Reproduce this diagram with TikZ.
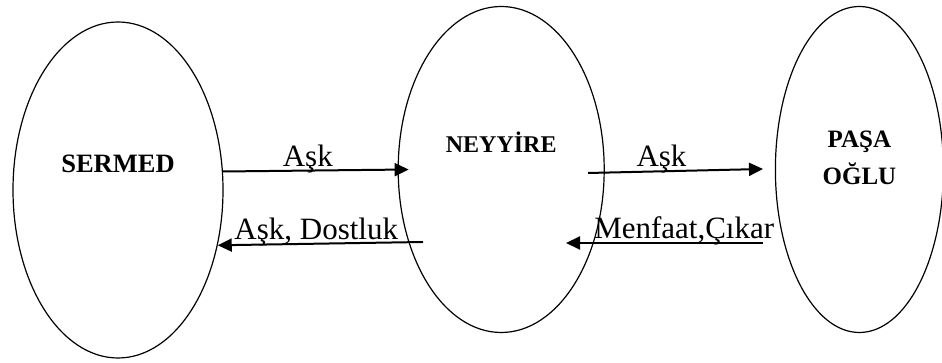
\documentclass[tikz,border=0pt]{standalone}
\usepackage{fontspec}
\setmainfont{Liberation Serif}[BoldFont={Liberation Serif Bold}]
\usetikzlibrary{shapes.geometric, arrows.meta, positioning}

\begin{document}
\begin{tikzpicture}[
    person/.style={ellipse, draw, line width=1.2pt, inner sep=0pt, minimum width=210pt, minimum height=336pt},
    personname/.style={font=\fontsize{25}{37}\selectfont\bfseries, align=center},
    relation/.style={font=\fontsize{31}{36}\selectfont, anchor=base, yshift=4.5pt, inner sep=0pt},
    flow/.style={-{Triangle[length=14pt, width=13pt]}, line width=2pt}
]
\useasboundingbox (0,0) rectangle (942pt,363pt);

% Characters
\node[person] (sermed) at (118pt,173pt) {};
\node[person, minimum width=206pt, minimum height=326pt, right=174pt of sermed, yshift=20.5pt] (neyyire) {};
\node[person, minimum width=168pt, minimum height=326pt, right=170pt of neyyire] (pasa) {};

\node[personname, font=\fontsize{26.5}{37}\selectfont\bfseries, anchor=base] (sermedname) at ([yshift=17pt]sermed.center) {SERMED};
\node[personname, font=\fontsize{24}{37}\selectfont\bfseries, anchor=base] (neyyirename) at ([yshift=16.5pt]neyyire.center) {NEYYİRE};
\node[personname] (pasaname) at ([yshift=11.5pt]pasa.center) {PAŞA\\OĞLU};

% Free ends of the arrows
\coordinate (dostlukstart) at (423pt,121pt);
\coordinate (neyyireout) at (588pt,190pt);
\coordinate (pasain) at (763pt,194pt);
\coordinate (pasaout) at (763pt,120pt);
\coordinate (neyyirein) at (566pt,120pt);

% Relations
\draw[flow] (sermed.10) -- ([xshift=11pt]neyyire.west) node[relation, pos=0.457] {Aşk};
\draw[flow] (dostlukstart) -- (sermed.-29) node[relation, pos=0.52] {Aşk, Dostluk};
\draw[flow] (neyyireout) -- (pasain) node[relation, pos=0.42] {Aşk};
\draw[flow] (pasaout) -- (neyyirein) node[relation, pos=0.40] {Menfaat,Çıkar};

\end{tikzpicture}
\end{document}
